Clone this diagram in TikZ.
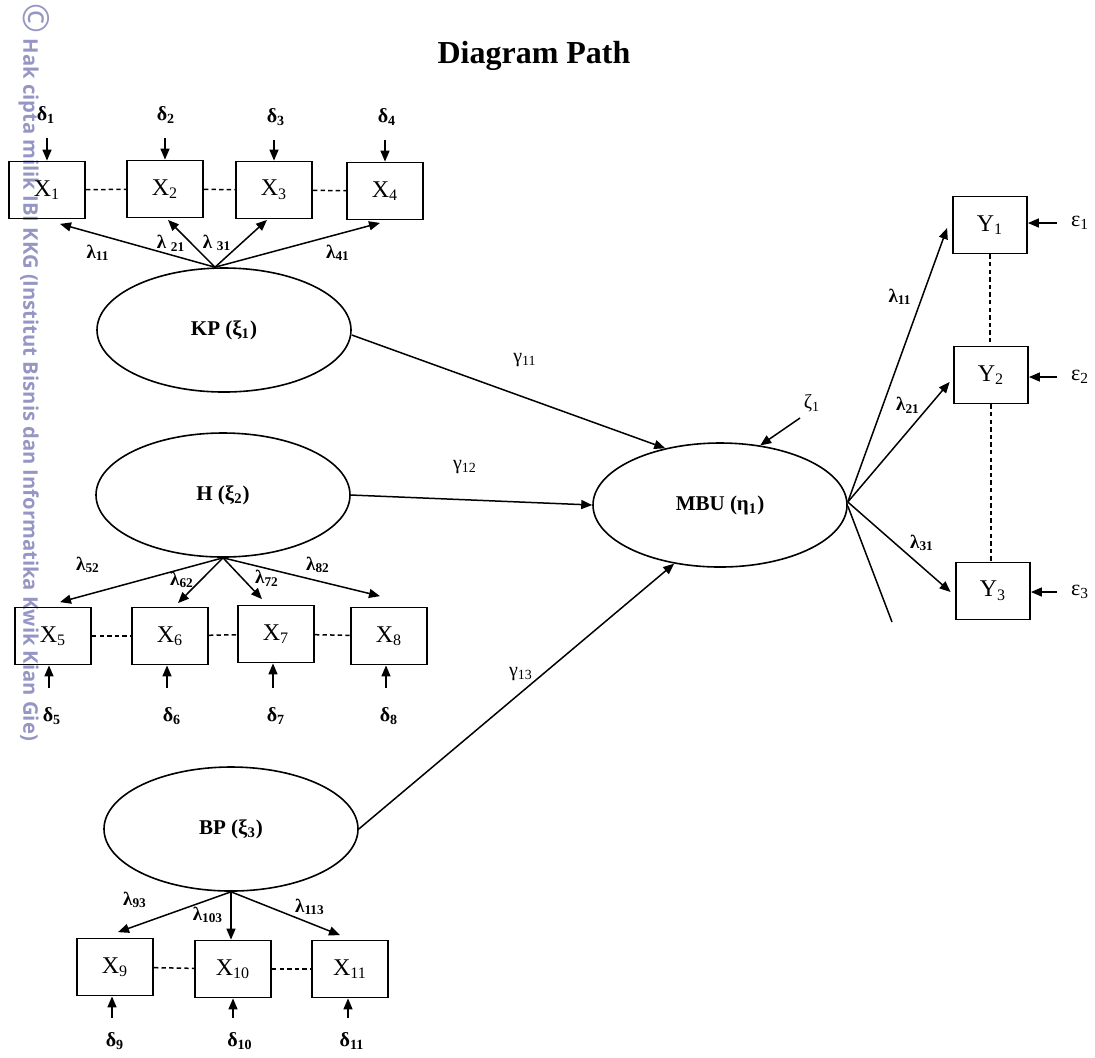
\documentclass[tikz,border=0pt]{standalone}
\usepackage{fontspec}
\setmainfont{Liberation Serif}
\newfontfamily\wmfont{Open Sans}
\usetikzlibrary{shapes.geometric,arrows.meta}
\definecolor{wmcol}{RGB}{150,150,196}
\begin{document}
\begin{tikzpicture}[x=0.5pt,y=-0.5pt,
  obs/.style={draw, line width=0.9pt, minimum width=38pt, minimum height=28.5pt, inner sep=0pt, font=\fontsize{12}{14}\selectfont},
  obsy/.style={obs, minimum width=37pt},
  lat/.style={ellipse, draw, line width=0.8pt, minimum width=127pt, minimum height=62pt, inner sep=0pt, font=\bfseries\fontsize{10.5}{12}\selectfont},
  arr/.style={-{Triangle[length=5.5pt,width=4.5pt]}, line width=0.75pt},
  plain/.style={line width=0.75pt},
  lnk/.style={line width=0.75pt, dash pattern=on 2.2pt off 1.6pt},
  err/.style={font=\bfseries\fontsize{10}{12}\selectfont, inner sep=0pt},
  eps/.style={font=\fontsize{11}{12}\selectfont, inner sep=0pt},
  lam/.style={font=\bfseries\fontsize{9.5}{11}\selectfont, inner sep=0pt},
  gam/.style={font=\fontsize{10}{12}\selectfont, inner sep=0pt}]
\useasboundingbox (0,0) rectangle (1095,1057);

% watermark
\node[rotate=-90, anchor=west, text=wmcol, inner sep=0pt, font=\wmfont\bfseries\fontsize{10.1}{12}\selectfont] (wm) at (34,3)
  {{\fontsize{18}{18}\selectfont\mdseries ©} Hak cipta milik IBI KKG (Institut Bisnis dan Informatika Kwik Kian Gie)};

% title
\node[font=\bfseries\fontsize{16}{18}\selectfont] (title) at (534,56) {Diagram Path};

% observed boxes
\node[obs] (X1) at (47,190) {X\textsubscript{1}};
\node[obs] (X2) at (165,189) {X\textsubscript{2}};
\node[obs] (X3) at (274,190) {X\textsubscript{3}};
\node[obs] (X4) at (385,191) {X\textsubscript{4}};
\node[obs] (X5) at (53,636) {X\textsubscript{5}};
\node[obs] (X6) at (170,636) {X\textsubscript{6}};
\node[obs] (X7) at (276,634) {X\textsubscript{7}};
\node[obs] (X8) at (389,636) {X\textsubscript{8}};
\node[obs] (X9) at (115,967) {X\textsubscript{9}};
\node[obs] (X10) at (233,969) {X\textsubscript{10}};
\node[obs] (X11) at (350,969) {X\textsubscript{11}};
\node[obsy] (Y1) at (990,225) {Y\textsubscript{1}};
\node[obsy] (Y2) at (991,375) {Y\textsubscript{2}};
\node[obsy] (Y3) at (993,591) {Y\textsubscript{3}};

% latent ellipses
\node[lat] (KP) at (224,330) {KP (ξ\textsubscript{1})};
\node[lat] (H) at (223,495) {H (ξ\textsubscript{2})};
\node[lat] (BP) at (231,829) {BP (ξ\textsubscript{3})};
\node[lat] (MBU) at (720,505) {MBU (η\textsubscript{1})};

% error labels
\node[err] (d1) at (46,115) {δ\textsubscript{1}};
\node[err] (d2) at (166,115) {δ\textsubscript{2}};
\node[err] (d3) at (276,117) {δ\textsubscript{3}};
\node[err] (d4) at (387,117) {δ\textsubscript{4}};
\node[err] (d5) at (52,716) {δ\textsubscript{5}};
\node[err] (d6) at (172,716) {δ\textsubscript{6}};
\node[err] (d7) at (276,716) {δ\textsubscript{7}};
\node[err] (d8) at (389,716) {δ\textsubscript{8}};
\node[err] (d9) at (115,1041) {δ\textsubscript{9}};
\node[err] (d10) at (240,1041) {δ\textsubscript{10}};
\node[err] (d11) at (352,1041) {δ\textsubscript{11}};
\node[eps] (e1) at (1080,223) {ε\textsubscript{1}};
\node[eps] (e2) at (1080,377) {ε\textsubscript{2}};
\node[eps] (e3) at (1080,592) {ε\textsubscript{3}};
\node[gam] (z1) at (812,403) {ζ\textsubscript{1}};
\coordinate (z1s) at (800,418);
\coordinate (tail) at (892,622);

% error arrows
\draw[arr, shorten <=11.5pt] (X1.north |- d1.center) -- (X1.north);
\draw[arr, shorten <=11.5pt] (X2.north |- d2.center) -- (X2.north);
\draw[arr, shorten <=11.5pt] (X3.north |- d3.center) -- (X3.north);
\draw[arr, shorten <=11.5pt] (X4.north |- d4.center) -- (X4.north);
\draw[arr, shorten <=14pt] ([xshift=-2pt]X5.south |- d5.center) -- ([xshift=-2pt]X5.south);
\draw[arr, shorten <=14pt] ([xshift=-1.5pt]X6.south |- d6.center) -- ([xshift=-1.5pt]X6.south);
\draw[arr, shorten <=14pt] ([xshift=-1.5pt]X7.south |- d7.center) -- ([xshift=-1.5pt]X7.south);
\draw[arr, shorten <=14pt] ([xshift=-1.5pt]X8.south |- d8.center) -- ([xshift=-1.5pt]X8.south);
\draw[arr, shorten <=11.5pt] ([xshift=-1.5pt]X9.south |- d9.center) -- ([xshift=-1.5pt]X9.south);
\draw[arr, shorten <=11.5pt] (X10.south |- d10.center) -- (X10.south);
\draw[arr, shorten <=11.5pt] ([xshift=-1pt]X11.south |- d11.center) -- ([xshift=-1pt]X11.south);
\draw[arr, shorten <=11.5pt] (e1.center) -- (e1.center -| Y1.east);
\draw[arr, shorten <=11.5pt] (e2.center) -- (e2.center -| Y2.east);
\draw[arr, shorten <=11.5pt] (e3.center) -- (e3.center -| Y3.east);
\draw[arr] (z1s) -- (MBU.56);

% dashed links
\draw[lnk] (X1) -- (X2);
\draw[lnk] (X2) -- (X3);
\draw[lnk] (X3) -- (X4);
\draw[lnk] (X5) -- (X6);
\draw[lnk] (X6) -- (X7);
\draw[lnk] (X7) -- (X8);
\draw[lnk] (X9) -- (X10);
\draw[lnk] (X10) -- (X11);
\draw[lnk] (Y1.south) -- (Y1.south |- Y2.north);
\draw[lnk] (Y2.south) -- (Y2.south |- Y3.north);

% loadings KP
\draw[arr] ([xshift=-4.5pt]KP.north) -- ([xshift=6.5pt,yshift=-2.25pt]X1.south);
\draw[arr] ([xshift=-4.5pt]KP.north) -- ([xshift=1.5pt,yshift=-0.75pt]X2.south);
\draw[arr] ([xshift=-4.5pt]KP.north) -- ([xshift=-3.5pt,yshift=-0.25pt]X3.south);
\draw[arr] ([xshift=-4.5pt]KP.north) -- ([xshift=-2.5pt,yshift=-1.25pt]X4.south);
% loadings H
\draw[arr] (H.south) -- ([xshift=3.5pt,yshift=2.25pt]X5.north);
\draw[arr] (H.south) -- ([xshift=4pt,yshift=1.75pt]X6.north);
\draw[arr] (H.south) -- ([xshift=-7pt,yshift=2.75pt]X7.north);
\draw[arr] (H.south) -- ([xshift=-4.5pt,yshift=5.25pt]X8.north);
% loadings BP
\draw[arr] (BP.south) -- ([xshift=1.5pt,yshift=2.75pt]X9.north);
\draw[arr] (BP.south) -- (BP.south |- X10.north);
\draw[arr] (BP.south) -- ([xshift=-5pt,yshift=2.25pt]X11.north);
% loadings MBU
\draw[arr] ([yshift=1.5pt]MBU.east) -- ([xshift=-2.5pt,yshift=-1.5pt]Y1.west);
\draw[arr] ([yshift=1.5pt]MBU.east) -- ([xshift=-1.75pt,yshift=-3.5pt]Y2.west);
\draw[arr] ([yshift=1.5pt]MBU.east) -- ([xshift=-2.25pt,yshift=-0.5pt]Y3.west);
\draw[plain] ([yshift=-0.5pt]MBU.east) -- (tail);

% structural paths
\draw[arr] ([yshift=-2.5pt]KP.east) -- (MBU.134);
\draw[arr] (H.east) -- (MBU.west);
\draw[arr] (BP.east) -- (MBU.232);

% loading labels
\node[lam] (l11) at (98,253) {λ\textsubscript{11}};
\node[lam] (l21) at (171,243) {λ\ \textsubscript{21}};
\node[lam] (l31) at (217,243) {λ\ \textsubscript{31}};
\node[lam] (l41) at (338,253) {λ\textsubscript{41}};
\node[lam] (l52) at (88,565) {λ\textsubscript{52}};
\node[lam] (l62) at (182,580) {λ\textsubscript{62}};
\node[lam] (l72) at (267,578) {λ\textsubscript{72}};
\node[lam] (l82) at (318,565) {λ\textsubscript{82}};
\node[lam] (l93) at (135,900) {λ\textsubscript{93}};
\node[lam] (l103) at (208,915) {λ\textsubscript{103}};
\node[lam] (l113) at (310,907) {λ\textsubscript{113}};
\node[lam] (m11) at (900,297) {λ\textsubscript{11}};
\node[lam] (m21) at (908,405) {λ\textsubscript{21}};
\node[lam] (m31) at (922,543) {λ\textsubscript{31}};
\node[gam] (g11) at (525,360) {γ\textsubscript{11}};
\node[gam] (g12) at (465,467) {γ\textsubscript{12}};
\node[gam] (g13) at (521,674) {γ\textsubscript{13}};
\end{tikzpicture}
\end{document}
